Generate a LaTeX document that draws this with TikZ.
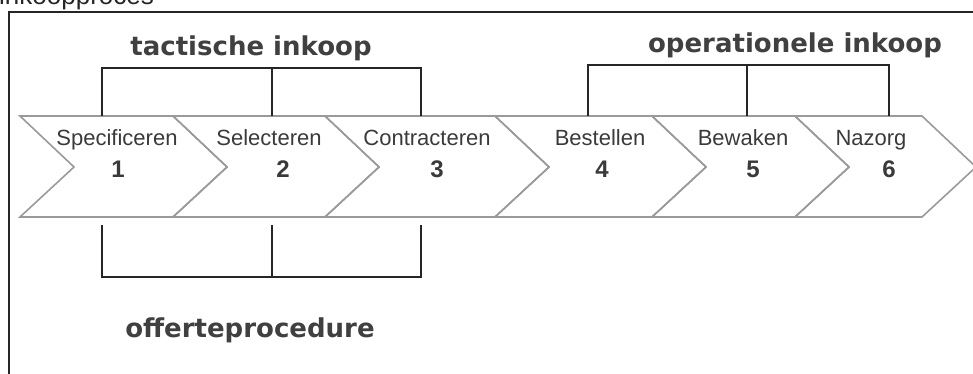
\documentclass[tikz,border=0pt]{standalone}
\usepackage{fontspec}
\setmainfont{Liberation Sans}
\newfontfamily\groupfont{DejaVu Sans}
\usepackage{xcolor}
\definecolor{chevgray}{HTML}{9A9A9A}
\definecolor{textgray}{HTML}{3A3A3A}
\tikzset{
    chevline/.style={draw=chevgray, line width=1.6pt, line join=miter},
    bracket/.style={draw=black!85, line width=1.2pt},
    frameline/.style={draw=black!85, line width=1.6pt},
    titlelabel/.style={anchor=base west, inner sep=0pt, text=black!85, font=\fontsize{26}{26}\selectfont},
    steplabel/.style={anchor=base, inner sep=0pt, text=textgray, font=\fontsize{22}{22}\selectfont},
    stepnum/.style={anchor=base, inner sep=0pt, text=textgray, font=\fontsize{24}{24}\selectfont\bfseries},
    grouplabel/.style={anchor=base, inner sep=0pt, text=black!75, font=\groupfont\fontsize{26}{26}\selectfont\bfseries},
}
\newcommand{\chev}[2]{
    \draw[chevline] (#1, 116) -- (#2, 116)
        -- (#2+54, 167)
        -- (#2, 217)
        -- (#1, 217)
        -- (#1+54, 167)
        -- cycle;
}

\begin{document}
\begin{tikzpicture}[x=1pt, y=-1pt]
    \useasboundingbox (0,0) rectangle (973,374);
    \node[titlelabel] (title) at (-1,5) {inkoopproces};
    \draw[frameline] (9,380) -- (9,12) -- (985,12);

    \chev{20}{173}
    \chev{173}{325}
    \chev{325}{495}
    \chev{495}{652}
    \chev{652}{795}
    \chev{795}{922}

    \foreach \xt/\xn/\txt[count=\i] in {117/118/Specificeren, 269/283/Selecteren,
        427/437/Contracteren, 600/602/Bestellen, 743/753/Bewaken, 871/889/Nazorg} {
        \node[steplabel] (step\i) at (\xt, 146) {\txt};
        \node[stepnum] (num\i) at (\xn, 178) {\i};
    }

    % tactisch / offerte
    \foreach \x[count=\i] in {102, 272, 421} {
        \coordinate (tac\i) at (\x, 116);
        \coordinate (off\i) at (\x, 225);
    }
    % operationeel
    \foreach \x[count=\i] in {588, 747, 889} {
        \coordinate (op\i) at (\x, 116);
    }

    \draw[bracket] (tac1) -- ++(0,-48) -| (tac3);
    \draw[bracket] (tac2) -- ++(0,-48);
    \draw[bracket] (op1) -- ++(0,-51) -| (op3);
    \draw[bracket] (op2) -- ++(0,-51);
    \draw[bracket] (off1) -- ++(0,52) -| (off3);
    \draw[bracket] (off2) -- ++(0,52);

    \node[grouplabel] (tactisch) at (251,56) {tactische inkoop};
    \node[grouplabel] (operationeel) at (795,53) {operationele inkoop};
    \node[grouplabel] (offerte) at (250,337) {offerteprocedure};
\end{tikzpicture}
\end{document}
